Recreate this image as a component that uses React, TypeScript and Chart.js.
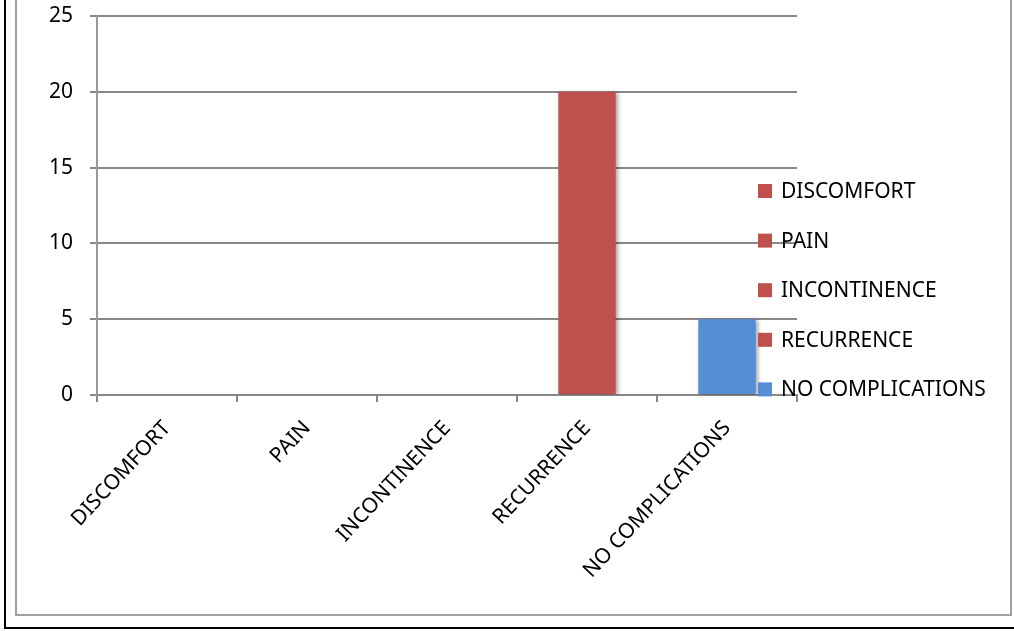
import React, { useEffect, useRef } from "react";
import { Chart, registerables } from "chart.js";

Chart.register(...registerables);

const categories = ["DISCOMFORT", "PAIN", "INCONTINENCE", "RECURRENCE", "NO COMPLICATIONS"];
const values = [0, 0, 0, 20, 5];
const barColors = ["#C0504D", "#C0504D", "#C0504D", "#C0504D", "#558ED5"];
const yTicks = [0, 5, 10, 15, 20, 25];

const FONT = "'Noto Sans', 'DejaVu Sans', sans-serif";
const GRID = "#888888";

const framePlugin = {
  id: "frame",
  afterDraw(chart: any) {
    const ctx = chart.ctx;
    ctx.save();
    ctx.strokeStyle = "#a0a0a0";
    ctx.lineWidth = 2;
    ctx.beginPath();
    ctx.moveTo(16, -5);
    ctx.lineTo(16, 615);
    ctx.lineTo(1011, 615);
    ctx.lineTo(1011, -5);
    ctx.stroke();
    ctx.strokeStyle = "#000";
    ctx.lineWidth = 2;
    ctx.beginPath();
    ctx.moveTo(5, -5);
    ctx.lineTo(5, 628);
    ctx.lineTo(1020, 628);
    ctx.stroke();
    ctx.restore();
  },
};

const shadowPlugin = {
  id: "barShadow",
  beforeDatasetDraw(chart: any) {
    const ctx = chart.ctx;
    ctx.save();
    ctx.shadowColor = "rgba(0,0,0,0.35)";
    ctx.shadowBlur = 4;
    ctx.shadowOffsetX = 2;
    ctx.shadowOffsetY = 1;
  },
  afterDatasetDraw(chart: any) {
    chart.ctx.restore();
  },
};

const legendPlugin = {
  id: "sideLegend",
  afterDraw(chart: any) {
    const ctx = chart.ctx;
    ctx.save();
    ctx.font = `21px ${FONT}`;
    ctx.textBaseline = "middle";
    ctx.textAlign = "left";
    categories.forEach((label, i) => {
      const cy = 191 + i * 49.6;
      ctx.fillStyle = barColors[i];
      ctx.fillRect(758, cy - 7, 14, 14);
      ctx.fillStyle = "#000";
      ctx.fillText(label, 781, cy + 1);
    });
    ctx.restore();
  },
};

export default function App() {
  const ref = useRef<HTMLCanvasElement>(null);
  useEffect(() => {
    if (!ref.current) return;
    const chart = new Chart(ref.current, {
      type: "bar",
      data: {
        labels: categories,
        datasets: [
          {
            data: values,
            backgroundColor: barColors,
            borderWidth: 0,
            barPercentage: 0.41,
            categoryPercentage: 1,
          },
        ],
      },
      options: {
        responsive: false,
        animation: false,
        layout: { padding: { left: 0, top: 16, right: 217, bottom: 0 } },
        plugins: { legend: { display: false }, tooltip: { enabled: false } },
        scales: {
          x: {
            grid: { display: true, drawOnChartArea: false, color: GRID, tickLength: 7, offset: true, lineWidth: 2 },
            border: { display: true, color: GRID, width: 2 },
            ticks: {
              color: "#000",
              font: { family: FONT, size: 21 },
              minRotation: 47,
              maxRotation: 47,
              autoSkip: false,
              padding: 14,
            },
            afterFit: (s: any) => {
              s.height = 236;
              s.paddingLeft = 0;
              s.paddingRight = 0;
              s.paddingTop = 0;
              s.paddingBottom = 0;
            },
          },
          y: {
            min: 0,
            max: 25,
            afterBuildTicks: (s: any) => {
              s.ticks = yTicks.map((v) => ({ value: v }));
            },
            grid: { color: GRID, tickLength: 7, lineWidth: 2 },
            border: { display: true, color: "#999999", width: 2 },
            ticks: {
              color: "#000",
              font: { family: FONT, size: 21 },
              padding: 17,
            },
            afterFit: (s: any) => {
              s.width = 97;
              s.paddingTop = 0;
              s.paddingBottom = 0;
              s.paddingLeft = 0;
              s.paddingRight = 0;
            },
          },
        },
      },
      plugins: [shadowPlugin, legendPlugin, framePlugin],
    });
    return () => chart.destroy();
  }, []);
  return (
    <div style={{ position: "fixed", left: 0, top: 0, width: 1014, height: 631, background: "#fff" }}>
      <canvas ref={ref} width={1014} height={631} style={{ display: "block" }} />
    </div>
  );
}
